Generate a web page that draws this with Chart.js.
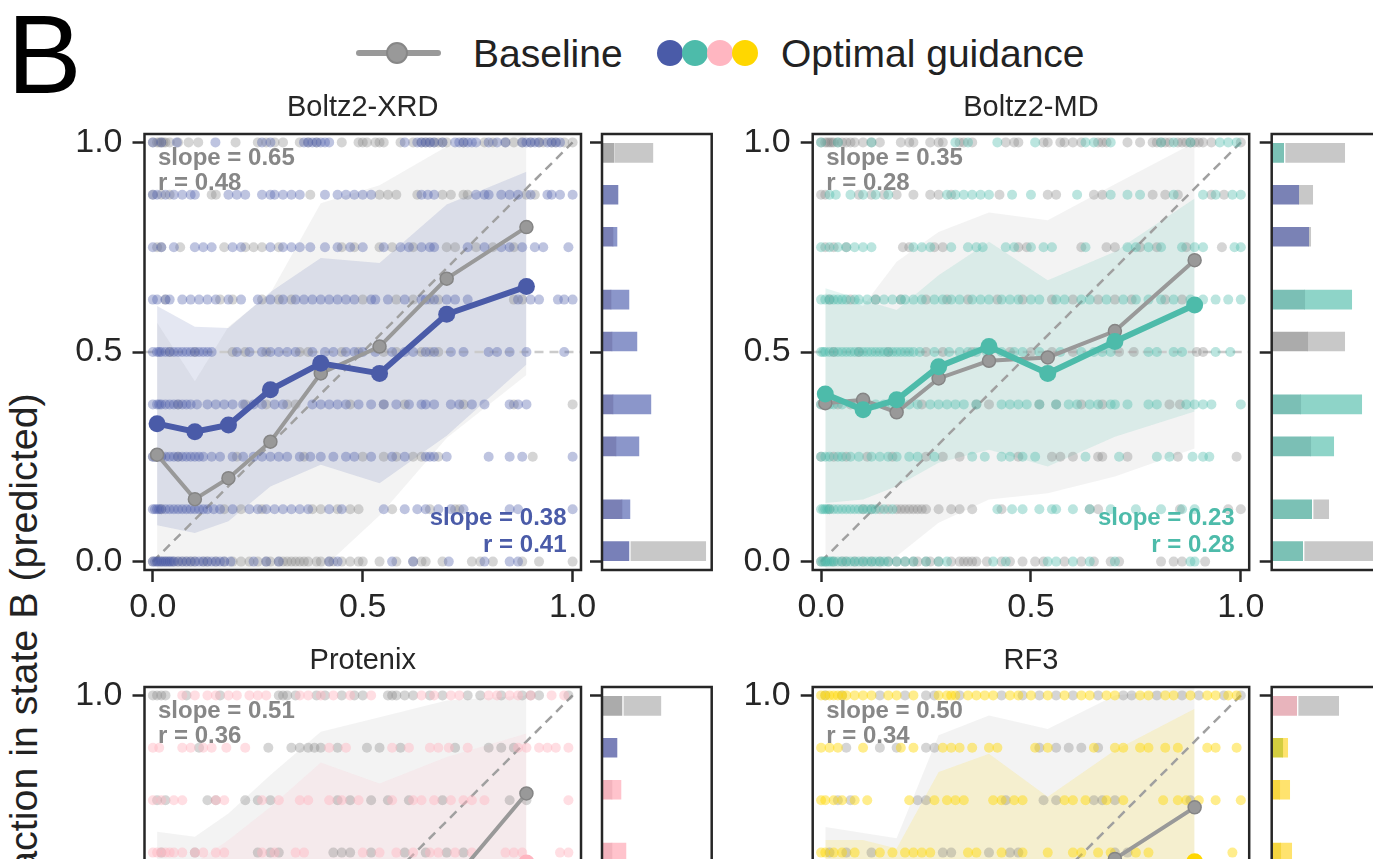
<!DOCTYPE html>
<html>
<head>
<meta charset="utf-8">
<script src="https://cdn.jsdelivr.net/npm/chart.js@4.4.1/dist/chart.umd.min.js"></script>
<style>
html,body{margin:0;padding:0;background:#fff;overflow:hidden;}
#stage{position:relative;width:1373px;height:859px;overflow:hidden;background:#fff;font-family:"Liberation Sans",Arial,Helvetica,sans-serif;color:#1a1a1a;}
#stage canvas{position:absolute;}
.txt{position:absolute;white-space:nowrap;line-height:1;}
.dot{position:absolute;border-radius:50%;box-sizing:border-box;}
</style>
</head>
<body>
<div id="stage">
  <div class="txt" id="panelLetter" style="left:7px;top:-1px;font-size:112px;color:#000;">B</div>
  <div style="position:absolute;left:356px;top:50px;width:85px;height:6px;background:#999;border-radius:3px;"></div>
  <div class="dot" style="left:386px;top:42px;width:22px;height:22px;background:#999;border:2px solid #878787;"></div>
  <div class="txt" id="legBase" style="left:473px;top:34px;font-size:39px;color:#222;"></div>
  <div id="legDots"></div>
  <div class="txt" id="legGuide" style="left:781px;top:34px;font-size:39px;color:#222;"></div>
  <div class="txt" id="ylab" style="left:4px;top:910px;font-size:39.4px;color:#222;transform-origin:0 0;transform:rotate(-90deg);"></div>
</div>
<script>
// ---------------- DATA ----------------
const LEVELS = [0, 0.125, 0.25, 0.375, 0.5, 0.625, 0.75, 0.875, 1.0];
const BIN_X = [0.01, 0.1, 0.18, 0.28, 0.4, 0.54, 0.7, 0.89];
const AXIS_TICKS = [0, 0.5, 1.0];
const SIDE_BINS = [0.025, 0.125, 0.275, 0.375, 0.525, 0.625, 0.775, 0.875, 0.975];
const REF_DIAG = [{x:0, y:0}, {x:1, y:1}];
const REF_HALF = [{x:-0.02, y:0.5}, {x:1.02, y:0.5}];

const TITLES = ['Boltz2-XRD', 'Boltz2-MD', 'Protenix', 'RF3'];
const LEGEND_LABELS = ['Baseline', 'Optimal guidance'];
const Y_LABEL = 'Fraction in state B (predicted)';

// ---- Boltz2-XRD ----
const XRD_BASE_PTS = [
  [0.0,0.01,0.02,0.03,0.04,0.05,0.06,0.07,0.08,0.09,0.10,0.12,0.13,0.15,0.17,0.19,0.21,0.23,0.25,0.27,0.28,0.30,0.31,0.32,0.33,0.34,0.35,0.36,0.37,0.39,0.40,0.42,0.43,0.45,0.47,0.49,0.50,0.54,0.58,0.62,0.64,0.65,0.69,0.76,0.78,0.81,0.88,0.92,1.0],
  [0.02,0.17,0.21,0.26,0.38,0.40,0.44,0.47,0.49,0.57,0.66,0.72,0.73],
  [0.0,0.02,0.06,0.20,0.36,0.50,0.55,0.58,0.62,0.64,0.68,0.905],
  [0.06,0.22,0.27,0.32,0.34,0.47,0.55,0.60,0.74,0.86,1.0],
  [0.04,0.10,0.19,0.22,0.27,0.35,0.37,0.45,0.49,0.55,0.58,0.64,0.66,0.68],
  [0.03,0.16,0.19,0.26,0.30,0.33,0.50,0.58,0.62,0.66,0.68,0.86,0.88],
  [0.01,0.02,0.065,0.17,0.22,0.24,0.26,0.30,0.45,0.48,0.54,0.57,0.62,0.70,0.72,0.77,0.81,0.86],
  [0.0,0.02,0.04,0.14,0.15,0.375,0.54,0.56,0.58,0.63,0.69,0.71,0.74,0.75,0.89,0.91],
  [0.0,0.01,0.015,0.02,0.025,0.03,0.04,0.06,0.085,0.108,0.197,0.25,0.27,0.29,0.31,0.35,0.37,0.39,0.45,0.49,0.50,0.51,0.53,0.54,0.55,0.59,0.62,0.64,0.65,0.66,0.67,0.68,0.69,0.70,0.74,0.79,0.81,0.84,0.86,0.88,0.90,0.92,0.93,0.95,0.96,0.98,1.0]
];
const XRD_GUIDE_PTS = [
  [0.0,0.005,0.01,0.015,0.02,0.025,0.03,0.035,0.04,0.045,0.05,0.06,0.07,0.08,0.09,0.10,0.11,0.12,0.13,0.14,0.15,0.16,0.17,0.185,0.24,0.27,0.30,0.42,0.44,0.57,0.62,0.705,0.79,0.85,0.87],
  [0.0,0.005,0.01,0.015,0.02,0.03,0.04,0.05,0.06,0.07,0.08,0.09,0.10,0.11,0.12,0.13,0.145,0.16,0.19,0.23,0.25,0.27,0.29,0.31,0.33,0.35,0.37,0.42,0.45,0.55,0.60,0.63,0.65,0.68,0.71,0.74,0.85,0.87,1.0],
  [0.0,0.005,0.01,0.02,0.03,0.04,0.05,0.06,0.07,0.08,0.09,0.10,0.11,0.12,0.14,0.16,0.19,0.215,0.24,0.26,0.28,0.30,0.32,0.35,0.375,0.40,0.43,0.46,0.48,0.52,0.57,0.60,0.65,0.66,0.67,0.70,0.80,0.85,0.88,1.0],
  [0.0,0.01,0.015,0.02,0.03,0.04,0.05,0.06,0.07,0.08,0.09,0.105,0.13,0.15,0.17,0.19,0.215,0.24,0.26,0.29,0.31,0.38,0.40,0.42,0.44,0.46,0.49,0.52,0.55,0.58,0.61,0.64,0.65,0.67,0.71,0.73,0.76,0.79,0.85,0.87,0.89],
  [0.0,0.01,0.015,0.02,0.03,0.04,0.05,0.06,0.07,0.08,0.09,0.10,0.11,0.12,0.13,0.14,0.20,0.23,0.26,0.28,0.30,0.32,0.34,0.38,0.41,0.43,0.46,0.48,0.50,0.53,0.57,0.60,0.62,0.65,0.67,0.71,0.74,0.80,0.82,0.85,0.89,0.98],
  [0.0,0.01,0.03,0.04,0.07,0.09,0.11,0.13,0.15,0.18,0.21,0.25,0.28,0.31,0.34,0.36,0.38,0.40,0.42,0.44,0.46,0.48,0.52,0.53,0.56,0.60,0.64,0.65,0.67,0.70,0.72,0.75,0.87,0.90,0.92,0.965,0.98,1.0],
  [0.0,0.02,0.05,0.10,0.12,0.14,0.19,0.21,0.28,0.31,0.33,0.35,0.375,0.41,0.44,0.47,0.50,0.55,0.59,0.61,0.64,0.66,0.67,0.75,0.79,0.83,0.85,0.88,0.91,0.93,0.99],
  [0.0,0.01,0.03,0.05,0.07,0.09,0.10,0.18,0.20,0.22,0.26,0.28,0.29,0.31,0.33,0.35,0.41,0.44,0.46,0.48,0.50,0.52,0.64,0.655,0.67,0.77,0.79,0.80,0.83,0.85,0.87,0.90,0.94,0.95,0.97,1.0],
  [0.0,0.02,0.057,0.149,0.26,0.28,0.36,0.37,0.38,0.39,0.40,0.41,0.42,0.60,0.63,0.64,0.65,0.66,0.67,0.69,0.72,0.73,0.74,0.75,0.76,0.77,0.80,0.82,0.84,0.88,0.89,0.90,0.91,0.92,0.94,0.95,0.96,0.97]
];
const XRD_BASE_MEAN  = [0.255, 0.149, 0.199, 0.286, 0.449, 0.513, 0.675, 0.798];
const XRD_GUIDE_MEAN = [0.329, 0.310, 0.326, 0.410, 0.473, 0.449, 0.590, 0.656];
const XRD_BASE_HI  = [0.57, 0.43, 0.56, 0.64, 0.855, 0.898, 0.99, 1.02];
const XRD_BASE_LO  = [-0.10, -0.12, -0.10, -0.07, -0.02, 0.11, 0.295, 0.445];
const XRD_GUIDE_HI = [0.61, 0.56, 0.557, 0.643, 0.724, 0.712, 0.852, 0.93];
const XRD_GUIDE_LO = [0.087, 0.068, 0.096, 0.179, 0.231, 0.187, 0.30, 0.47];
const XRD_BASE_FIT  = [0.65, 0.48];
const XRD_GUIDE_FIT = [0.38, 0.41];
const XRD_SIDE_A = [27, 20, 14, 11, 10, 9, 11, 16, 12];
const XRD_SIDE_B = [[29,104],[20,28],[14,37],[11,49],[10,35],[9,27],[11,15],null,[13,51]];

// ---- Boltz2-MD ----
const MD_BASE_PTS = [
  [0.0,0.01,0.03,0.05,0.06,0.08,0.10,0.12,0.14,0.16,0.18,0.20,0.22,0.23,0.25,0.26,0.28,0.31,0.33,0.34,0.35,0.36,0.37,0.395,0.43,0.45,0.48,0.51,0.53,0.58,0.62,0.65,0.69,0.71,0.81,0.84,0.86,0.915],
  [0.02,0.10,0.12,0.14,0.16,0.18,0.19,0.20,0.21,0.22,0.23,0.24,0.25,0.28,0.31,0.33,0.36,0.43,0.64,0.66,0.855,0.97,1.0],
  [0.0,0.03,0.06,0.11,0.17,0.25,0.29,0.33,0.47,0.55,0.57,0.60,0.66,0.67,0.73,0.85,0.99],
  [0.0,0.04,0.07,0.24,0.37,0.40,0.52,0.56,0.62,0.67,0.83,0.855],
  [0.03,0.09,0.16,0.25,0.29,0.36,0.45,0.50,0.55,0.60,0.71,0.745,0.895,0.91],
  [0.02,0.07,0.13,0.19,0.25,0.30,0.35,0.42,0.48,0.55,0.60,0.66,0.70,0.74,0.82,0.86],
  [0.01,0.03,0.06,0.195,0.21,0.27,0.29,0.47,0.49,0.62,0.68,0.70,0.76,0.80,0.87,0.955],
  [0.0,0.01,0.09,0.12,0.15,0.18,0.22,0.26,0.28,0.31,0.425,0.54,0.56,0.65,0.67,0.79,0.82,0.85,0.93,0.96],
  [0.0,0.01,0.015,0.02,0.025,0.03,0.04,0.05,0.06,0.07,0.08,0.10,0.12,0.14,0.19,0.21,0.22,0.26,0.28,0.29,0.33,0.34,0.36,0.44,0.46,0.47,0.53,0.54,0.57,0.58,0.60,0.62,0.66,0.67,0.68,0.73,0.76,0.79,0.80,0.81,0.82,0.83,0.85,0.86,0.87,0.88,0.89,0.90,0.91,0.93,1.0]
];
const MD_GUIDE_PTS = [
  [0.0,0.005,0.01,0.015,0.02,0.025,0.03,0.04,0.05,0.06,0.07,0.08,0.09,0.10,0.11,0.12,0.13,0.14,0.15,0.16,0.18,0.20,0.22,0.25,0.28,0.30,0.41,0.44,0.54,0.56,0.60,0.64,0.70,0.88,0.89],
  [0.0,0.005,0.01,0.015,0.02,0.03,0.04,0.05,0.06,0.07,0.08,0.09,0.10,0.11,0.12,0.13,0.15,0.17,0.42,0.455,0.48,0.52,0.55,0.56,0.60,0.64,0.69,0.75,0.81,0.86,0.89],
  [0.0,0.01,0.02,0.04,0.05,0.07,0.09,0.12,0.14,0.16,0.18,0.21,0.23,0.27,0.36,0.39,0.43,0.45,0.48,0.51,0.63,0.71,0.80,0.83,0.885,0.91,0.925],
  [0.0,0.01,0.02,0.03,0.05,0.08,0.10,0.13,0.15,0.17,0.19,0.21,0.23,0.26,0.28,0.30,0.32,0.34,0.37,0.43,0.45,0.47,0.49,0.52,0.56,0.59,0.61,0.64,0.66,0.69,0.70,0.73,0.78,0.80,0.87,0.89,0.91,0.93,1.0],
  [0.0,0.005,0.01,0.02,0.03,0.04,0.05,0.06,0.07,0.08,0.09,0.10,0.11,0.12,0.13,0.14,0.15,0.16,0.17,0.18,0.19,0.20,0.21,0.22,0.235,0.27,0.305,0.33,0.35,0.37,0.395,0.43,0.46,0.48,0.52,0.57,0.62,0.65,0.67,0.69,0.78,0.80,0.84,0.86,0.94,0.975],
  [0.0,0.01,0.02,0.03,0.04,0.05,0.06,0.08,0.09,0.11,0.13,0.15,0.17,0.19,0.20,0.22,0.24,0.27,0.29,0.31,0.33,0.36,0.38,0.40,0.43,0.45,0.47,0.50,0.52,0.56,0.58,0.62,0.64,0.68,0.72,0.75,0.78,0.81,0.84,0.88,0.91,0.94,0.97,1.0],
  [0.0,0.02,0.04,0.06,0.08,0.10,0.12,0.22,0.24,0.26,0.31,0.35,0.37,0.385,0.44,0.46,0.50,0.53,0.55,0.63,0.73,0.75,0.78,0.81,0.86,0.89,0.91,0.985,1.0],
  [0.02,0.035,0.07,0.10,0.13,0.16,0.30,0.32,0.34,0.36,0.38,0.40,0.455,0.50,0.61,0.69,0.73,0.76,0.84,0.91,0.94,0.98,1.0],
  [0.0,0.04,0.12,0.32,0.35,0.42,0.51,0.63,0.65,0.69,0.81,0.84,0.88,0.95,0.97,0.99]
];
const MD_BASE_MEAN  = [0.378, 0.386, 0.356, 0.437, 0.479, 0.487, 0.550, 0.719];
const MD_GUIDE_MEAN = [0.400, 0.362, 0.386, 0.465, 0.513, 0.449, 0.525, 0.612];
const MD_BASE_HI  = [0.64, 0.61, 0.715, 0.786, 0.833, 0.814, 0.90, 1.0];
const MD_BASE_LO  = [-0.10, -0.05, 0.013, 0.093, 0.148, 0.163, 0.203, 0.27];
const MD_GUIDE_HI = [0.652, 0.624, 0.60, 0.683, 0.763, 0.671, 0.739, 0.866];
const MD_GUIDE_LO = [0.14, 0.148, 0.18, 0.236, 0.267, 0.227, 0.298, 0.358];
const MD_BASE_FIT  = [0.35, 0.28];
const MD_GUIDE_FIT = [0.23, 0.28];
const MD_SIDE_A = [31, 40, 39, 29, 36, 33, 37, 27, 12];
const MD_SIDE_B = [[33,112],[42,57],[39,62],[29,90],[36,73],[33,80],[37,39],[27,41],[14,73]];

// ---- Protenix (only the upper rows are in view) ----
const PROT_BASE_PTS = [[],[],[],[],[],
  [0.02,0.10,0.25,0.28,0.30,0.43,0.45,0.47,0.52,0.60,0.65,0.70,0.74],
  [0.01,0.03,0.13,0.15,0.22,0.25,0.28,0.44,0.47,0.52,0.56,0.61,0.69,0.85,0.89],
  [0.11,0.275,0.33,0.35,0.37,0.385,0.40,0.44,0.51,0.54,0.59,0.72,0.80,0.83,0.86],
  [0.0,0.01,0.02,0.03,0.08,0.16,0.30,0.31,0.32,0.34,0.39,0.41,0.45,0.48,0.50,0.56,0.57,0.58,0.60,0.62,0.66,0.69,0.75,0.78,0.83,0.88,0.90,0.92,0.99]
];
const PROT_GUIDE_PTS = [[],[],[],[],[],
  [0.0,0.01,0.02,0.03,0.04,0.05,0.07,0.10,0.12,0.15,0.17,0.26,0.29,0.34,0.36,0.50,0.54,0.58,0.62,0.66,0.68,0.72,0.76,0.84,0.86,0.88,0.97,0.99],
  [0.0,0.02,0.05,0.07,0.15,0.17,0.26,0.30,0.35,0.37,0.42,0.45,0.49,0.57,0.62,0.64,0.67,0.71,0.74,0.76,0.79,0.99],
  [0.0,0.015,0.07,0.09,0.12,0.14,0.175,0.22,0.42,0.46,0.57,0.61,0.66,0.68,0.705,0.75,0.87,0.89,0.92,0.94,0.96,0.99],
  [0.07,0.10,0.13,0.15,0.18,0.20,0.23,0.25,0.27,0.35,0.37,0.40,0.43,0.47,0.52,0.64,0.67,0.71,0.73,0.80,0.82,0.85,0.87,0.90,0.95,0.98]
];
const PROT_BASE_MEAN  = [0.30, 0.25, 0.28, 0.35, 0.42, 0.45, 0.54, 0.766];
const PROT_GUIDE_MEAN = [0.36, 0.34, 0.37, 0.43, 0.47, 0.49, 0.54, 0.60];
const PROT_BASE_HI  = [0.675, 0.663, 0.718, 0.81, 0.913, 0.948, 0.988, 1.0];
const PROT_BASE_LO  = [-0.10, -0.10, -0.08, -0.05, 0.0, 0.05, 0.15, 0.45];
const PROT_GUIDE_HI = [0.55, 0.60, 0.655, 0.734, 0.84, 0.79, 0.853, 0.909];
const PROT_GUIDE_LO = [0.10, 0.08, 0.10, 0.15, 0.12, 0.18, 0.25, 0.30];
const PROT_BASE_FIT = [0.51, 0.36];
const PROT_SIDE_A = [null, null, null, null, null, 10, 10, 15, 20];
const PROT_SIDE_B = [null, null, null, null, null, [10,24], [10,19], null, [22,59]];

// ---- RF3 (only the upper rows are in view) ----
const RF3_BASE_PTS = [[],[],[],[],[],
  [0.02,0.06,0.12,0.29,0.31,0.40,0.45,0.47,0.70,0.73],
  [0.04,0.07,0.23,0.25,0.44,0.53,0.56,0.65,0.67,0.70,0.88],
  [0.06,0.14,0.18,0.25,0.27,0.52,0.56,0.59,0.62,0.66],
  [0.01,0.05,0.14,0.20,0.25,0.27,0.33,0.43,0.48,0.52,0.56,0.60,0.66,0.72,0.74,0.80,0.86,0.90,0.96,1.0]
];
const RF3_GUIDE_PTS = [[],[],[],[],[],
  [0.0,0.01,0.03,0.05,0.08,0.14,0.17,0.20,0.22,0.24,0.26,0.35,0.37,0.43,0.48,0.54,0.60,0.62,0.66,0.69,0.75,0.78,0.98],
  [0.0,0.01,0.03,0.05,0.08,0.11,0.21,0.27,0.30,0.32,0.34,0.41,0.43,0.46,0.48,0.58,0.60,0.63,0.68,0.72,0.815,0.85,0.87,0.90,0.94,1.0],
  [0.0,0.02,0.04,0.10,0.19,0.22,0.29,0.31,0.33,0.36,0.40,0.42,0.51,0.54,0.65,0.70,0.72,0.76,0.78,0.82,0.85,0.92,0.94,0.99],
  [0.0,0.01,0.02,0.03,0.04,0.05,0.06,0.08,0.10,0.12,0.16,0.18,0.22,0.28,0.30,0.31,0.32,0.35,0.37,0.39,0.41,0.45,0.47,0.50,0.54,0.58,0.62,0.64,0.68,0.70,0.76,0.78,0.82,0.84,0.88,0.92,0.94,0.97,0.99]
];
const RF3_BASE_MEAN  = [0.32, 0.30, 0.33, 0.40, 0.45, 0.50, 0.61, 0.733];
const RF3_GUIDE_MEAN = [0.38, 0.36, 0.40, 0.45, 0.50, 0.48, 0.52, 0.603];
const RF3_BASE_HI  = [0.686, 0.672, 0.659, 0.905, 0.952, 0.92, 1.0, 1.02];
const RF3_BASE_LO  = [-0.10, -0.10, -0.08, -0.05, 0.0, 0.05, 0.15, 0.45];
const RF3_GUIDE_HI = [0.655, 0.655, 0.635, 0.817, 0.861, 0.758, 0.869, 0.968];
const RF3_GUIDE_LO = [0.10, 0.08, 0.10, 0.15, 0.12, 0.18, 0.25, 0.30];
const RF3_BASE_FIT = [0.50, 0.34];
const RF3_SIDE_A = [null, null, null, null, null, 9, 8, 11, 25];
const RF3_SIDE_B = [null, null, null, null, null, [9,20], [8,18], [11,16], [27,67]];

// ---------------- STYLE ----------------
const C_XRD = '#4A5BA8', C_MD = '#4DBBAA', C_PROT = '#FFB6C1', C_RF3 = '#FFD700';
const GRAY_LINE = '#999999', TXT_GRAY = '#878787', INK = '#262626';
const LG = '#c8c8c8', DG = '#ababab';
const XRD_SIDE_COL_A = ['#7880b8','#7a80b5','#7a80b5','#7a80b5','#7a80b5','#7a80b5','#7a80b5','#7b84b9', DG];
const XRD_SIDE_COL_B = [LG,'#8b96ca','#8b96ca','#8b96ca','#8b96ca','#8b96ca','#8b96ca', null, LG];
const MD_SIDE_COL_A = ['#7bc1b5','#7bc1b5','#7bbfb5','#7bbfb5', DG,'#7bbfb5','#7a82b5','#7a82b5','#7bc1b5'];
const MD_SIDE_COL_B = [LG, LG,'#8ed4c8','#8ed4c8', LG,'#8ed4c8', LG, LG, LG];
const PROT_SIDE_COL_A = [null,null,null,null,null,'#f3b3bd','#f3b3bd','#7a80b8', DG];
const PROT_SIDE_COL_B = [null,null,null,null,null,'#ffc3cc','#ffc3cc', null, LG];
const RF3_SIDE_COL_A = [null,null,null,null,null,'#f6d640','#f6d640','#d3cd3f','#e8b4bc'];
const RF3_SIDE_COL_B = [null,null,null,null,null,'#ffe36e','#ffe36e','#ffe36e', LG];

// ---------------- DRAWING ----------------
Chart.defaults.font.family = '"Liberation Sans", Arial, Helvetica, sans-serif';
Chart.defaults.color = INK;

const stage = document.getElementById('stage');
document.getElementById('legBase').textContent = LEGEND_LABELS[0];
document.getElementById('legGuide').textContent = LEGEND_LABELS[1];
document.getElementById('ylab').textContent = Y_LABEL;
[C_XRD, C_MD, C_PROT, C_RF3].forEach((c, i) => {
  const d = document.createElement('div');
  d.className = 'dot';
  d.style.cssText = `left:${657 + 25 * i}px;top:40px;width:26px;height:26px;background:${c};`;
  document.getElementById('legDots').appendChild(d);
});

function rgba(hex, a) {
  const n = parseInt(hex.slice(1), 16);
  return `rgba(${(n >> 16) & 255},${(n >> 8) & 255},${n & 255},${a})`;
}
function rowsToPoints(rows) {
  const out = [];
  rows.forEach((xs, i) => xs.forEach(x => out.push({x: x, y: LEVELS[i]})));
  return out;
}
function series(ys) { return BIN_X.map((x, i) => ({x: x, y: ys[i]})); }
function makeCanvas(left, top, w, h) {
  const c = document.createElement('canvas');
  c.width = w; c.height = h;
  c.style.left = left + 'px'; c.style.top = top + 'px';
  c.style.width = w + 'px'; c.style.height = h + 'px';
  stage.appendChild(c);
  return c;
}

const framePlugin = {
  id: 'frame',
  afterDatasetsDraw(chart) {
    const {ctx, chartArea: a} = chart;
    ctx.save();
    ctx.strokeStyle = INK; ctx.lineWidth = 2.5;
    ctx.strokeRect(a.left, a.top, a.right - a.left, a.bottom - a.top);
    ctx.restore();
  }
};
const fitTextPlugin = {
  id: 'fitText',
  afterDraw(chart, args, o) {
    if (!o || !o.items) return;
    const {ctx, chartArea: a} = chart;
    ctx.save();
    ctx.font = 'bold 24px "Liberation Sans", Arial, sans-serif';
    ctx.textBaseline = 'alphabetic';
    o.items.forEach(it => {
      ctx.fillStyle = it.color;
      ctx.textAlign = it.align;
      const x = it.align === 'left' ? a.left + 13.5 : a.right - 14.5;
      const y = it.fromTop ? a.top + it.dy : a.bottom - it.dy;
      ctx.fillText(it.text, x, y);
    });
    ctx.restore();
  }
};
Chart.register(framePlugin, fitTextPlugin);

function axisCommon(extra) {
  return Object.assign({
    type: 'linear', min: -0.02, max: 1.02,
    afterBuildTicks: s => { s.ticks = AXIS_TICKS.map(v => ({value: v})); },
    ticks: {callback: v => Number(v).toFixed(1), font: {size: 34}, color: INK, autoSkip: false, maxRotation: 0},
    grid: {display: true, drawOnChartArea: false, drawTicks: true, tickLength: 12, tickWidth: 2.5, tickColor: INK, offset: false},
    border: {display: false}
  }, extra);
}

function scatterPanel(g, p) {
  const cv = makeCanvas(g.left, g.top, g.w, g.h);
  const items = [];
  if (p.baseFit) {
    items.push({text: 'slope = ' + p.baseFit[0].toFixed(2), color: TXT_GRAY, align: 'left', fromTop: true, dy: 31});
    items.push({text: 'r = ' + p.baseFit[1].toFixed(2), color: TXT_GRAY, align: 'left', fromTop: true, dy: 56});
  }
  if (p.guideFit) {
    items.push({text: 'slope = ' + p.guideFit[0].toFixed(2), color: p.color, align: 'right', fromTop: false, dy: 45});
    items.push({text: 'r = ' + p.guideFit[1].toFixed(2), color: p.color, align: 'right', fromTop: false, dy: 18});
  }
  const clear = 'rgba(0,0,0,0)';
  new Chart(cv, {
    type: 'line',
    data: {datasets: [
      {data: series(p.guideMean), borderColor: p.color, borderWidth: 6, pointRadius: 8.5,
       pointBackgroundColor: p.color, pointBorderWidth: 0, order: 0},
      {data: series(p.baseMean), borderColor: GRAY_LINE, borderWidth: 4, pointRadius: 6.5,
       pointBackgroundColor: GRAY_LINE, pointBorderColor: '#858585', pointBorderWidth: 1.5, order: 1},
      {data: rowsToPoints(p.guidePts), showLine: false, pointRadius: 5,
       pointBackgroundColor: rgba(p.color, p.alpha), pointBorderWidth: 0, order: 2},
      {data: rowsToPoints(p.basePts), showLine: false, pointRadius: 5,
       pointBackgroundColor: 'rgba(128,128,128,0.33)', pointBorderWidth: 0, order: 3},
      {data: REF_DIAG, borderColor: '#a0a0a0', borderDash: [9, 6], borderWidth: 2.5, pointRadius: 0, order: 4},
      {data: REF_HALF, borderColor: '#cbcbcb', borderDash: [9, 6], borderWidth: 2.5, pointRadius: 0, order: 5},
      {data: series(p.guideHi), borderColor: clear, borderWidth: 0, pointRadius: 0, fill: '+1',
       backgroundColor: rgba(p.color, 0.15), order: 6},
      {data: series(p.guideLo), borderColor: clear, borderWidth: 0, pointRadius: 0, fill: false, order: 6},
      {data: series(p.baseHi), borderColor: clear, borderWidth: 0, pointRadius: 0, fill: '+1',
       backgroundColor: 'rgba(200,200,200,0.22)', order: 7},
      {data: series(p.baseLo), borderColor: clear, borderWidth: 0, pointRadius: 0, fill: false, order: 7}
    ]},
    options: {
      responsive: false, animation: false, events: [],
      elements: {line: {tension: 0}},
      layout: {padding: {left: 0, top: 0, bottom: 0, right: g.padRight}},
      scales: {
        x: axisCommon({afterFit: s => { s.height = 80; }, ticks: {callback: v => Number(v).toFixed(1), font: {size: 34}, color: INK, autoSkip: false, maxRotation: 0, padding: 5}}),
        y: axisCommon({afterFit: s => { s.width = g.yw; }, ticks: {callback: v => Number(v).toFixed(1), font: {size: 34}, color: INK, autoSkip: false, padding: 10}})
      },
      plugins: {
        legend: {display: false}, tooltip: {enabled: false},
        title: {display: true, text: p.title, fullSize: false, color: INK,
                font: {size: 29, weight: 'normal', lineHeight: 1}, padding: {top: 33, bottom: 12}},
        fitText: {items: items}
      }
    }
  });
}

function sidePanel(g, segA, segB, colA, colB) {
  const cv = makeCanvas(g.left, g.top, g.w, g.h);
  const dA = [], cA = [], dB = [], cB = [];
  SIDE_BINS.forEach((b, i) => {
    if (segA[i] != null) { dA.push({x: [0, segA[i]], y: b}); cA.push(colA[i]); }
    if (segB[i] != null) { dB.push({x: segB[i], y: b}); cB.push(colB[i]); }
  });
  new Chart(cv, {
    type: 'bar',
    data: {datasets: [
      {data: dA, backgroundColor: cA, borderWidth: 0, grouped: false, barThickness: 19, order: 0},
      {data: dB, backgroundColor: cB, borderWidth: 0, grouped: false, barThickness: 19, order: 1}
    ]},
    options: {
      indexAxis: 'y', responsive: false, animation: false, events: [],
      layout: {padding: {left: 0, top: 74, bottom: 80, right: g.padRight}},
      scales: {
        x: {type: 'linear', min: 0, max: 110, display: false},
        y: axisCommon({offset: false, afterFit: s => { s.width = g.yw; }, ticks: {display: false}})
      },
      plugins: {legend: {display: false}, tooltip: {enabled: false}, title: {display: false}}
    }
  });
}

// layout of the four panels and their side bars
scatterPanel({left: 20, top: 60, w: 591, h: 590, yw: 124.5, padRight: 30},
  {title: TITLES[0], color: C_XRD, alpha: 0.36, basePts: XRD_BASE_PTS, guidePts: XRD_GUIDE_PTS,
   baseMean: XRD_BASE_MEAN, guideMean: XRD_GUIDE_MEAN, baseHi: XRD_BASE_HI, baseLo: XRD_BASE_LO,
   guideHi: XRD_GUIDE_HI, guideLo: XRD_GUIDE_LO, baseFit: XRD_BASE_FIT, guideFit: XRD_GUIDE_FIT});
scatterPanel({left: 690, top: 60, w: 590, h: 590, yw: 122.7, padRight: 30.8},
  {title: TITLES[1], color: C_MD, alpha: 0.38, basePts: MD_BASE_PTS, guidePts: MD_GUIDE_PTS,
   baseMean: MD_BASE_MEAN, guideMean: MD_GUIDE_MEAN, baseHi: MD_BASE_HI, baseLo: MD_BASE_LO,
   guideHi: MD_GUIDE_HI, guideLo: MD_GUIDE_LO, baseFit: MD_BASE_FIT, guideFit: MD_GUIDE_FIT});
scatterPanel({left: 20, top: 613, w: 591, h: 590, yw: 124.5, padRight: 30},
  {title: TITLES[2], color: C_PROT, alpha: 0.45, basePts: PROT_BASE_PTS, guidePts: PROT_GUIDE_PTS,
   baseMean: PROT_BASE_MEAN, guideMean: PROT_GUIDE_MEAN, baseHi: PROT_BASE_HI, baseLo: PROT_BASE_LO,
   guideHi: PROT_GUIDE_HI, guideLo: PROT_GUIDE_LO, baseFit: PROT_BASE_FIT, guideFit: null});
scatterPanel({left: 690, top: 613, w: 590, h: 590, yw: 122.7, padRight: 30.8},
  {title: TITLES[3], color: C_RF3, alpha: 0.45, basePts: RF3_BASE_PTS, guidePts: RF3_GUIDE_PTS,
   baseMean: RF3_BASE_MEAN, guideMean: RF3_GUIDE_MEAN, baseHi: RF3_BASE_HI, baseLo: RF3_BASE_LO,
   guideHi: RF3_GUIDE_HI, guideLo: RF3_GUIDE_LO, baseFit: RF3_BASE_FIT, guideFit: null});

sidePanel({left: 560, top: 60, w: 162, h: 590, yw: 42, padRight: 10.3}, XRD_SIDE_A, XRD_SIDE_B, XRD_SIDE_COL_A, XRD_SIDE_COL_B);
sidePanel({left: 1230, top: 60, w: 162, h: 590, yw: 41.7, padRight: 10.3}, MD_SIDE_A, MD_SIDE_B, MD_SIDE_COL_A, MD_SIDE_COL_B);
sidePanel({left: 560, top: 613, w: 162, h: 590, yw: 42, padRight: 10.3}, PROT_SIDE_A, PROT_SIDE_B, PROT_SIDE_COL_A, PROT_SIDE_COL_B);
sidePanel({left: 1230, top: 613, w: 162, h: 590, yw: 41.7, padRight: 10.3}, RF3_SIDE_A, RF3_SIDE_B, RF3_SIDE_COL_A, RF3_SIDE_COL_B);
</script>
</body>
</html>
